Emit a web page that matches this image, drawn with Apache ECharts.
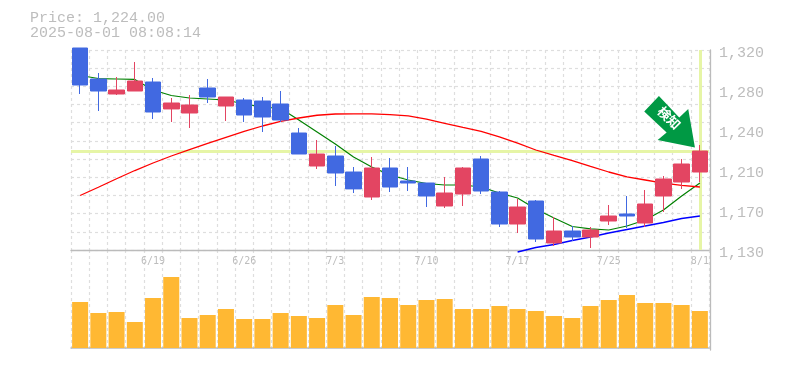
<!DOCTYPE html>
<html><head><meta charset="utf-8">
<style>html,body{margin:0;padding:0;background:#fff}#c{width:785px;height:370px}</style>
<script src="https://cdn.jsdelivr.net/npm/echarts@6/dist/echarts.min.js"></script>
</head><body><div id="c"></div>
<script>
const dates=['6/13','6/16','6/17','6/18','6/19','6/20','6/23','6/24','6/25','6/26','6/27','6/30','7/1','7/2','7/3','7/4','7/7','7/8','7/9','7/10','7/11','7/14','7/15','7/16','7/17','7/18','7/22','7/23','7/24','7/25','7/28','7/29','7/30','7/31','8/1'];
const opens=[1321.9,1292.45,1278.2,1281.05,1289.6,1264,1260.15,1283.9,1266.8,1272.5,1271.55,1268.7,1241.15,1209.8,1219.3,1204.1,1180.35,1207.9,1195.55,1193.65,1171.8,1183.2,1216.45,1185.1,1154.7,1176.55,1136.65,1148.05,1142.35,1157.55,1164.2,1155.65,1181.3,1194.6,1204.1];
const closes=[1286.75,1281.05,1282,1290.55,1261.1,1269.65,1267.75,1275.35,1275.35,1258.25,1256.35,1253.5,1221.2,1221.2,1203.15,1188.05,1207.9,1189.85,1193.65,1181.3,1184.15,1207.9,1186.05,1154.7,1170.85,1140.45,1148.05,1142.35,1149,1162.3,1162.3,1173.7,1197.45,1211.7,1224];
const lows=[1278.2,1262.05,1277.25,1281.05,1254.45,1251.6,1245.9,1269.65,1252.55,1251.6,1242.1,1251.6,1221.2,1206.95,1190.8,1184.15,1177.5,1185.1,1186.05,1170.85,1169.9,1171.8,1183.2,1151.85,1146.15,1137.6,1133.8,1138.55,1131.9,1153.75,1150.9,1151.85,1166.1,1187.95,1194.6];
const highs=[1321.9,1298.15,1294.35,1308.6,1293.4,1274.4,1277.25,1292.45,1275.35,1274.4,1275.35,1281.05,1245.9,1234.5,1228.8,1208.85,1218.35,1217.4,1208.85,1193.65,1199.35,1208.85,1219.3,1186.05,1178.45,1177.5,1161.35,1152.8,1151.85,1172.75,1181.3,1187,1200.3,1216.45,1229.75];
const maGreen=[1295.8,1292.9,1292.45,1292,1282,1276.8,1274.4,1273.45,1272.5,1268.7,1265.85,1264.4,1253.5,1242.1,1230.7,1218.35,1208.85,1201.25,1196.5,1193.2,1191.75,1191.75,1189.85,1184.15,1179.4,1169,1160.4,1152.3,1150,1149,1152.8,1158.5,1168,1181.3,1193.65];
const maRed=[1181.8,1189.6,1197.7,1205.5,1212.65,1219.3,1225.3,1231.2,1237.1,1242.6,1247.8,1252.2,1255.4,1258,1259.2,1259.4,1259.4,1258.6,1257.4,1254.4,1250.4,1246.4,1242.6,1237.4,1231.6,1225,1219.8,1215,1209.5,1204.1,1199.4,1196.5,1193.6,1191.3,1189.85];
const maBlue=[null,null,null,null,null,null,null,null,null,null,null,null,null,null,null,null,null,null,null,null,null,null,null,null,1128.1,1132.4,1135.2,1139,1142.35,1146.15,1149.5,1152.8,1156.1,1159.9,1162.3];
const volumes=[46,35,36,26,50,71,30,33,39,29,29,35,32,30,43,33,51,50,43,48,49,39,39,42,39,37,32,30,42,48,53,45,45,43,37];
const lastPrice=1224;
const headline=['Price: 1,224.00','2025-08-01 08:08:14'];
const signalText='検知';

const GRID='#dedede', AXIS='#bbbbbb', TXT='#bdbdbd', UP='#E34562', DOWN='#4169E1', HL='#E6F5A6';
const MONO='"Liberation Mono","DejaVu Sans Mono",monospace';
const fmt=v=>{const r=Math.round(v/10)*10;return String(r).replace(/\B(?=(\d{3})+$)/g,',');};
const dash={show:true,interval:0,lineStyle:{color:GRID,type:[3,3],width:1.2}};
const lineSeries=(name,data,color,width)=>({name,type:'line',data,xAxisIndex:0,yAxisIndex:0,symbol:'none',clip:false,z:2,
  lineStyle:{color,width},itemStyle:{color},silent:true,animation:false});

const chart=echarts.init(document.getElementById('c'),null,{renderer:'canvas'});
chart.setOption({
  animation:false,
  backgroundColor:'#fff',
  title:{text:headline.join('\n'),left:30,top:11,padding:0,
    textStyle:{fontFamily:MONO,fontSize:15,fontWeight:'normal',color:TXT,lineHeight:15}},
  grid:[{left:71,width:638,top:50,height:200},{left:71,width:638,top:250,height:100},{left:71,width:638,top:53,height:200}],
  xAxis:[
    {type:'category',gridIndex:0,data:dates,boundaryGap:true,
      axisLine:{show:true,lineStyle:{color:AXIS,width:1.3}},axisTick:{show:false},
      splitLine:dash,
      axisLabel:{show:true,color:TXT,fontFamily:'"DejaVu Sans Mono",monospace',fontSize:10,margin:6,
        interval:i=>i%5===4,hideOverlap:false}},
    {type:'category',gridIndex:1,data:dates,boundaryGap:true,
      axisLine:{show:true,lineStyle:{color:AXIS,width:1.5}},axisTick:{show:false},
      splitLine:dash,axisLabel:{show:false}},
    {type:'category',gridIndex:2,data:dates,show:false}
  ],
  yAxis:[
    {type:'value',gridIndex:0,position:'right',offset:1,min:1130,max:1320,interval:38,
      axisLine:{show:true,onZero:false,lineStyle:{color:AXIS,width:1.3}},axisTick:{show:false},splitLine:{show:false},
      axisLabel:{show:false}},
    {type:'value',gridIndex:0,position:'left',min:0,max:11,interval:1,
      axisLine:{show:false},axisTick:{show:false},axisLabel:{show:false},
      splitLine:{show:true,lineStyle:{color:GRID,type:[3,3],width:1.2}}},
    {type:'value',gridIndex:1,position:'right',offset:1,min:-2,max:98,
      axisLine:{show:true,onZero:false,lineStyle:{color:AXIS,width:1.3}},axisTick:{show:false},
      axisLabel:{show:false},splitLine:{show:false}},
    {type:'value',gridIndex:2,position:'right',offset:1,min:1130,max:1320,interval:38,
      axisLine:{show:false},axisTick:{show:false},splitLine:{show:false},
      axisLabel:{color:TXT,fontFamily:MONO,fontSize:15,margin:9,align:'left',verticalAlign:'middle',formatter:fmt}}
  ],
  series:[
    {type:'line',name:'guide',xAxisIndex:0,yAxisIndex:0,data:[],symbol:'none',silent:true,
      markLine:{silent:true,symbol:'none',z:1,animation:false,label:{show:false},
        lineStyle:{color:HL,width:3,type:'solid'},
        data:[{yAxis:lastPrice},{xAxis:dates.length-1}]}},
    lineSeries('green',maGreen,'#008000',1.2),
    lineSeries('red',maRed,'#ff0000',1.3),
    lineSeries('blue',maBlue,'#0000ff',1.5),
    {type:'candlestick',name:'price',xAxisIndex:0,yAxisIndex:0,clip:false,z:3,barWidth:16,silent:true,
      data:dates.map((d,i)=>[opens[i],closes[i],lows[i],highs[i]]),
      itemStyle:{color:UP,color0:DOWN,borderColor:UP,borderColor0:DOWN,borderWidth:1,borderColorDoji:DOWN},
      markPoint:{silent:true,animation:false,z:6,
        data:[{coord:[dates.length-1,lastPrice],
          symbol:'path://M14.7 0 L35 21.3 L44 13 L50.7 51.3 L13.4 44 L22.4 36.3 L0 15.3 Z',
          symbolSize:[50.7,51.3],symbolOffset:[-30.3,-29.3],symbolKeepAspect:false,
          itemStyle:{color:'#009944'},
          label:{show:true,formatter:signalText,position:'inside',rotate:-45,offset:[-3,-2.5],
            color:'#fff',fontSize:13,fontWeight:'bold',fontFamily:'"Noto Sans CJK JP"'}}]}},
    {type:'bar',name:'volume',xAxisIndex:1,yAxisIndex:2,data:volumes,barWidth:16,silent:true,
      itemStyle:{color:'#FFB833'}}
  ]
});
</script></body></html>
